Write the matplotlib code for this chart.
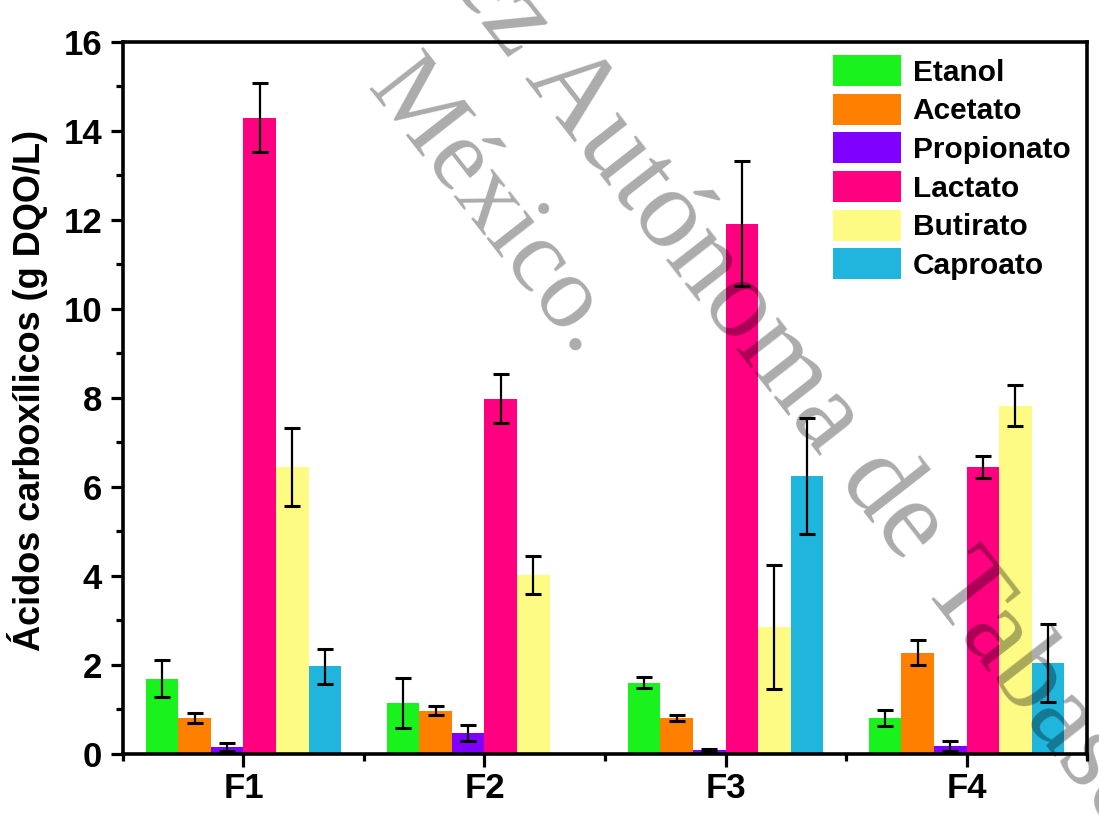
import matplotlib
matplotlib.use('Agg')
import matplotlib.pyplot as plt
from matplotlib.patches import Patch
from matplotlib.ticker import MultipleLocator, FixedLocator
import numpy as np

plt.rcParams['font.family'] = ['Liberation Sans', 'DejaVu Sans']
plt.rcParams['font.weight'] = 'bold'

groups = ['F1', 'F2', 'F3', 'F4']
series = ['Etanol', 'Acetato', 'Propionato', 'Lactato', 'Butirato', 'Caproato']

etanol = [1.69, 1.15, 1.60, 0.81]
etanol_err = [0.42, 0.56, 0.12, 0.18]
acetato = [0.81, 0.97, 0.81, 2.27]
acetato_err = [0.11, 0.10, 0.06, 0.28]
propionato = [0.16, 0.47, 0.08, 0.18]
propionato_err = [0.09, 0.18, 0.04, 0.12]
lactato = [14.30, 7.98, 11.92, 6.45]
lactato_err = [0.78, 0.55, 1.40, 0.25]
butirato = [6.45, 4.02, 2.85, 7.82]
butirato_err = [0.88, 0.43, 1.40, 0.46]
caproato = [1.97, np.nan, 6.25, 2.05]
caproato_err = [0.39, np.nan, 1.30, 0.88]

values = [etanol, acetato, propionato, lactato, butirato, caproato]
errors = [etanol_err, acetato_err, propionato_err, lactato_err, butirato_err, caproato_err]
colors = ['#1AF21E', '#FF7F00', '#7F00FF', '#FF0080', '#FDFB84', '#1FB5DC']

fig = plt.figure(figsize=(10.99, 8.24), dpi=100)
ax = fig.add_axes([0.1119, 0.0850, 0.8772, 0.8641])

x = np.arange(1, len(groups) + 1)
width = 0.135
for i, (vals, errs, col) in enumerate(zip(values, errors, colors)):
    pos = x + (i - 2.5) * width
    ax.bar(pos, vals, width, color=col, label=series[i], zorder=2)
    ax.errorbar(pos, vals, yerr=errs, fmt='none', ecolor='black',
                elinewidth=1.6, capsize=5.5, capthick=2.2, zorder=3)

ax.set_xlim(0.5, 4.5)
ax.set_ylim(0, 16)
ax.set_xticks(x)
ax.set_xticklabels(groups)
ax.xaxis.set_minor_locator(FixedLocator([0.5, 1.5, 2.5, 3.5, 4.5]))
ax.yaxis.set_major_locator(MultipleLocator(2))
ax.yaxis.set_minor_locator(MultipleLocator(1))

for sp in ax.spines.values():
    sp.set_linewidth(2.6)
ax.tick_params(which='major', direction='out', length=9, width=2.3, labelsize=25)
ax.tick_params(which='minor', direction='out', length=5, width=2.3)
ax.tick_params(axis='y', which='major', pad=6)
ax.tick_params(axis='x', which='major', pad=4)

ax.set_ylabel('Ácidos carboxílicos (g DQO/L)', fontsize=26, fontweight='bold')
ax.yaxis.set_label_coords(-0.078, 0.51)

handles = [Patch(facecolor=c, edgecolor='none', label=s) for c, s in zip(colors, series)]
ax.legend(handles=handles, frameon=False, loc='upper left', bbox_to_anchor=(0.7085, 1.019),
          prop={'weight': 'bold', 'size': 21.5}, handlelength=2.27, handleheight=1.22,
          labelspacing=0.235, handletextpad=0.4, borderpad=0.4)

# institutional watermark over the figure
wm = dict(family=['Liberation Serif', 'DejaVu Serif'], fontweight='normal',
          color='black', alpha=0.33, rotation=-52, rotation_mode='anchor',
          ha='left', va='baseline', zorder=10)
fig.text(-29 / 1099, 1 + 630 / 824, 'Universidad Juárez Autónoma de Tabasco.', fontsize=82, **wm)
fig.text(366 / 1099, 1 - 88 / 824, 'México.', fontsize=75, **wm)

fig.savefig('out.png', dpi=100)
